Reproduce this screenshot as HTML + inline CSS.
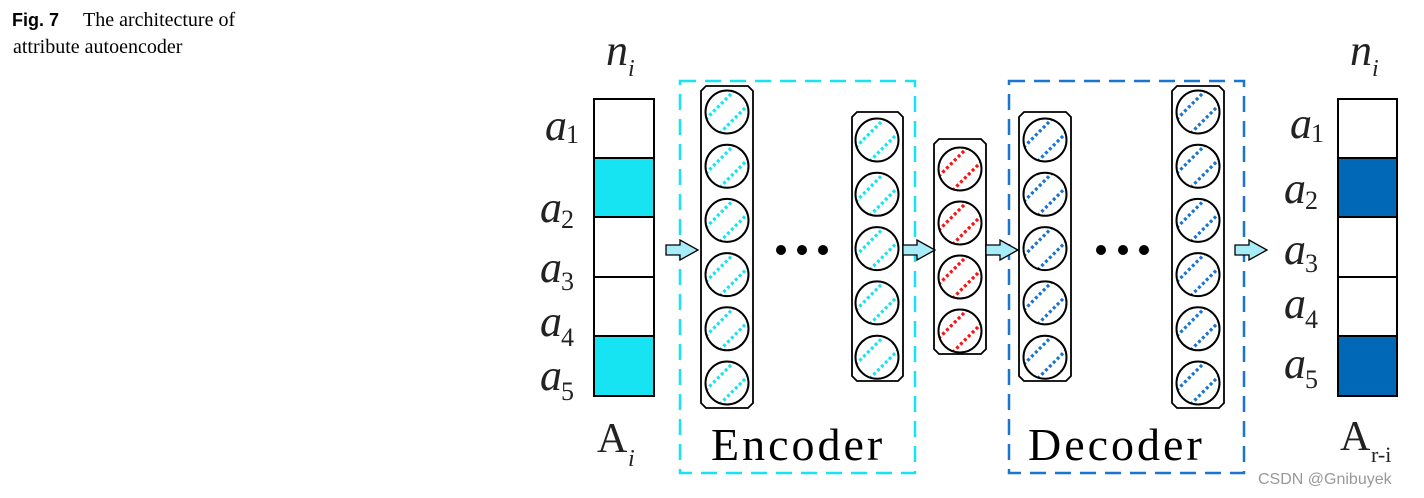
<!DOCTYPE html>
<html><head><meta charset="utf-8"><style>
html,body{margin:0;padding:0;background:#fff;width:1424px;height:498px;overflow:hidden}
svg{position:absolute;left:0;top:0}
</style></head><body>
<svg id="s" width="1424" height="498" xmlns="http://www.w3.org/2000/svg">
<text x="12" y="26" font-family="Liberation Sans, sans-serif" font-weight="bold" font-size="18">Fig. 7</text>
<text x="83" y="26" font-family="Liberation Serif, serif" font-size="20">The architecture of</text>
<text x="13" y="53" font-family="Liberation Serif, serif" font-size="20">attribute autoencoder</text>

<g stroke="#000" stroke-width="2">
<rect x="594" y="99" width="60" height="59" fill="#fff"/>
<rect x="594" y="158" width="60" height="59" fill="#17e4f2"/>
<rect x="594" y="217" width="60" height="60" fill="#fff"/>
<rect x="594" y="277" width="60" height="59" fill="#fff"/>
<rect x="594" y="336" width="60" height="60" fill="#17e4f2"/>
<rect x="1338" y="99" width="59" height="59" fill="#fff"/>
<rect x="1338" y="158" width="59" height="59" fill="#0068b7"/>
<rect x="1338" y="217" width="59" height="60" fill="#fff"/>
<rect x="1338" y="277" width="59" height="59" fill="#fff"/>
<rect x="1338" y="336" width="59" height="60" fill="#0068b7"/>
</g>
<g font-family="Liberation Serif, serif" font-style="italic" font-size="44" fill="#222">
<text x="545" y="140">a</text><text x="566" y="143" font-size="26" font-style="normal">1</text>
<text x="540" y="222">a</text><text x="561" y="228" font-size="26" font-style="normal">2</text>
<text x="540" y="282">a</text><text x="561" y="290" font-size="26" font-style="normal">3</text>
<text x="540" y="336">a</text><text x="561" y="346" font-size="26" font-style="normal">4</text>
<text x="540" y="390">a</text><text x="561" y="400" font-size="26" font-style="normal">5</text>
<text x="606" y="65">n</text><text x="628" y="76" font-size="24">i</text>
<text x="1290" y="138">a</text><text x="1311" y="142" font-size="26" font-style="normal">1</text>
<text x="1284" y="203">a</text><text x="1305" y="209" font-size="26" font-style="normal">2</text>
<text x="1284" y="264">a</text><text x="1305" y="272" font-size="26" font-style="normal">3</text>
<text x="1284" y="318">a</text><text x="1305" y="328" font-size="26" font-style="normal">4</text>
<text x="1284" y="378">a</text><text x="1305" y="388" font-size="26" font-style="normal">5</text>
<text x="1350" y="65">n</text><text x="1372" y="76" font-size="24">i</text>
<text x="597" y="452" font-style="normal" font-size="42">A</text><text x="628" y="466" font-size="24">i</text>
<text x="1340" y="450" font-style="normal" font-size="42">A</text><text x="1371" y="462" font-size="22" font-style="normal">r-i</text>
</g>
<rect x="680" y="81" width="235" height="392" fill="none" stroke="#17e4f2" stroke-width="2.5" stroke-dasharray="16,9"/>
<rect x="1009" y="81" width="235" height="392" fill="none" stroke="#1a75d2" stroke-width="2.5" stroke-dasharray="16,9"/>
<g font-family="Liberation Serif, serif" font-size="46" fill="#000" letter-spacing="3">
<text x="711" y="460">Encoder</text>
<text x="1028" y="460">Decoder</text>
</g>
<g fill="#000">
<circle cx="781" cy="250" r="5"/><circle cx="802" cy="250" r="5"/><circle cx="823" cy="250" r="5"/>
<circle cx="1101" cy="250" r="5"/><circle cx="1123" cy="250" r="5"/><circle cx="1144" cy="250" r="5"/>
</g>
<text x="1258" y="484" font-family="Liberation Sans, sans-serif" font-size="16" fill="#999">CSDN @Gnibuyek</text>
<g id="cols"></g>
</svg>
<script>
var g=document.getElementById('cols'),h='';
function col(x1,x2,y1,y2,cx,cys,color){
 h+='<path d="M'+(x1+5)+','+y1+'H'+(x2-5)+'L'+x2+','+(y1+5)+'V'+(y2-5)+'L'+(x2-5)+','+y2+'H'+(x1+5)+'L'+x1+','+(y2-5)+'V'+(y1+5)+'Z" fill="#fff" stroke="#000" stroke-width="1.8"/>';
 cys.forEach(function(cy,i){
  var id='c'+x1+'_'+i;
  h+='<clipPath id="'+id+'"><circle cx="'+cx+'" cy="'+cy+'" r="21"/></clipPath>';
  h+='<g clip-path="url(#'+id+')" stroke="'+color+'" stroke-width="3.2" stroke-dasharray="3,2.5">';
  var d=7;
  h+='<line x1="'+(cx-30-d)+'" y1="'+(cy+30-d)+'" x2="'+(cx+30-d)+'" y2="'+(cy-30-d)+'"/>';
  h+='<line x1="'+(cx-30+d)+'" y1="'+(cy+30+d)+'" x2="'+(cx+30+d)+'" y2="'+(cy-30+d)+'"/></g>';
  h+='<circle cx="'+cx+'" cy="'+cy+'" r="21.5" fill="none" stroke="#000" stroke-width="2"/>';
 });
}
function seq(a,n,s){var r=[];for(var i=0;i<n;i++)r.push(a+i*s);return r;}
col(701,753,86,408,727,seq(112,6,54.2),'#17e4f2');
col(852,903,112,381,877,seq(140,5,54.3),'#17e4f2');
col(934,986,139,354,960,seq(169,4,54),'#ff1010');
col(1019,1071,112,381,1045,seq(140,5,54.3),'#1a75d2');
col(1172,1224,86,408,1198,seq(112,6,54.2),'#1a75d2');
function arrow(x){
 h+='<path d="M'+x+',245H'+(x+14)+'V240L'+(x+32)+',250L'+(x+14)+',260V255H'+x+'Z" fill="#a8ecf8" stroke="#000" stroke-width="1.3"/>';
}
arrow(666);arrow(903);arrow(986);arrow(1235);
g.innerHTML=h;
</script>
</body></html>
